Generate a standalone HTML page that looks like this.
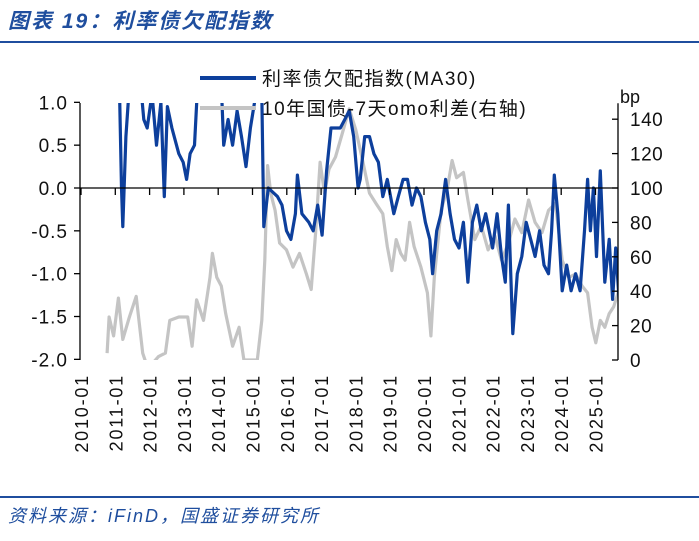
<!DOCTYPE html>
<html><head><meta charset="utf-8"><style>
body{margin:0;background:#fff;width:699px;height:536px;overflow:hidden;font-family:"Liberation Sans","Noto Sans CJK SC",sans-serif}
</style></head><body>
<svg id="chart" width="699" height="536" xmlns="http://www.w3.org/2000/svg">
<text x="8" y="28" font-size="21" font-weight="bold" font-style="italic" letter-spacing="2" fill="#1f4e9e">图表 19：利率债欠配指数</text>
<rect x="0" y="41" width="699" height="2" fill="#1f4e9e"/>
<rect x="0" y="496" width="699" height="2" fill="#1f4e9e"/>
<text x="8" y="522" font-size="18" font-style="italic" letter-spacing="2" fill="#1f4e9e">资料来源：iFinD，国盛证券研究所</text>
<g id="plot"></g>
<g id="axes"></g>
<g>
<line x1="200" y1="78" x2="256" y2="78" stroke="#0d3f9c" stroke-width="4"/>
<text x="262" y="85" font-size="19" letter-spacing="1.5" fill="#111">利率债欠配指数(MA30)</text>
<line x1="200" y1="108" x2="256" y2="108" stroke="#c4c4c4" stroke-width="4"/>
<text x="262" y="115" font-size="19" letter-spacing="1.5" fill="#111">10年国债-7天omo利差(右轴)</text>
</g>
<text x="620" y="103" font-size="18" fill="#111">bp</text>
</svg>
<script>
const years=[2010,2011,2012,2013,2014,2015,2016,2017,2018,2019,2020,2021,2022,2023,2024,2025];
const leftTicks=[1.0,0.5,0.0,-0.5,-1.0,-1.5,-2.0];
const rightTicks=[0,20,40,60,80,100,120,140];
const blueDates=[2011.12,2011.18,2011.22,2011.31,2011.41,2011.74,2011.83,2011.93,2012.07,2012.20,2012.33,2012.43,2012.52,2012.65,2012.85,2012.98,2013.08,2013.18,2013.31,2013.40,2014.09,2014.16,2014.29,2014.42,2014.55,2014.68,2014.81,2014.94,2015.14,2015.27,2015.33,2015.46,2015.73,2015.86,2015.99,2016.12,2016.25,2016.31,2016.44,2016.64,2016.77,2016.90,2017.03,2017.16,2017.29,2017.56,2017.69,2017.82,2017.95,2018.08,2018.14,2018.27,2018.41,2018.54,2018.67,2018.80,2018.93,2019.12,2019.25,2019.39,2019.52,2019.65,2019.78,2019.91,2020.04,2020.17,2020.25,2020.37,2020.50,2020.63,2020.76,2020.89,2021.02,2021.15,2021.28,2021.41,2021.54,2021.67,2021.80,2022.00,2022.13,2022.26,2022.37,2022.46,2022.59,2022.72,2022.85,2022.98,2023.11,2023.24,2023.37,2023.50,2023.63,2023.72,2023.80,2023.90,2024.03,2024.16,2024.29,2024.42,2024.55,2024.68,2024.77,2024.85,2024.94,2025.03,2025.14,2025.27,2025.40,2025.50,2025.59,2025.72];
const blueValues=[1.2,0.0,-0.45,0.6,1.2,1.2,0.8,0.7,1.1,0.5,1.0,-0.1,0.95,0.7,0.4,0.3,0.1,0.4,0.5,1.2,1.2,0.5,0.8,0.5,0.9,0.6,0.25,0.7,1.2,1.1,-0.45,0.0,-0.1,-0.2,-0.5,-0.6,-0.3,0.15,-0.3,-0.4,-0.5,-0.2,-0.55,0.2,0.7,0.7,0.8,0.9,0.6,0.0,0.1,0.6,0.6,0.4,0.3,-0.1,0.1,-0.3,-0.1,0.1,0.1,-0.2,0.0,-0.1,-0.4,-0.6,-1.0,-0.5,-0.3,0.1,-0.3,-0.6,-0.7,-0.4,-1.1,-0.4,-0.2,-0.5,-0.3,-0.7,-0.3,-0.8,-1.1,-0.2,-1.7,-1.0,-0.8,-0.4,-0.6,-0.8,-0.5,-0.9,-1.0,-0.5,0.15,-0.3,-1.2,-0.9,-1.2,-1.0,-1.2,-0.5,0.1,-0.5,0.0,-0.8,0.2,-1.1,-0.6,-1.3,-0.7,-1.5];
const grayDates=[2010.76,2010.82,2010.95,2011.09,2011.22,2011.41,2011.61,2011.80,2011.95,2012.26,2012.46,2012.59,2012.85,2013.11,2013.24,2013.37,2013.57,2013.76,2013.83,2013.96,2014.09,2014.22,2014.42,2014.61,2014.75,2015.14,2015.27,2015.36,2015.44,2015.53,2015.66,2015.79,2015.99,2016.18,2016.37,2016.57,2016.71,2016.84,2016.97,2017.10,2017.23,2017.42,2017.62,2017.82,2018.01,2018.21,2018.41,2018.60,2018.80,2018.93,2019.06,2019.19,2019.32,2019.45,2019.58,2019.71,2019.91,2020.10,2020.20,2020.30,2020.50,2020.69,2020.82,2020.95,2021.15,2021.28,2021.48,2021.67,2021.87,2022.07,2022.26,2022.46,2022.65,2022.85,2023.05,2023.24,2023.44,2023.63,2023.83,2024.03,2024.22,2024.42,2024.61,2024.77,2024.90,2025.01,2025.14,2025.27,2025.40,2025.53,2025.66,2025.74];
const grayValues=[4,25,14,36,12,25,37,4,-5,2,4,23,25,25,8,35,23,48,62,48,43,27,8,19,0,0,23,58,113,97,87,68,64,54,62,50,41,74,115,97,111,118,132,146,134,116,97,91,85,66,52,70,62,58,80,66,54,39,14,48,87,101,116,106,109,93,70,78,64,72,58,68,82,74,93,80,74,87,91,58,48,50,43,39,19,10,23,19,27,31,39,50];

const X0=81,PX=34.3,L=80,R=618,TOP=103,BOT=360;
const xs=t=>X0+(t-2010)*PX;
const yl=v=>188-v*85.67;
const yr=v=>360-v*1.72;
const NS="http://www.w3.org/2000/svg";
const svg=document.getElementById('chart');
function mk(tag,attrs,parent){const e=document.createElementNS(NS,tag);for(const k in attrs)e.setAttribute(k,attrs[k]);(parent||svg).appendChild(e);return e;}
const plot=document.getElementById('plot'),axes=document.getElementById('axes');
const defs=mk('defs',{});
const cp=mk('clipPath',{id:'clip'},defs);mk('rect',{x:L,y:TOP,width:R-L,height:BOT-TOP},cp);

const gp=mk('polyline',{points:grayDates.map((d,i)=>xs(d).toFixed(1)+','+yr(grayValues[i]).toFixed(1)).join(' '),fill:'none',stroke:'#c4c4c4','stroke-width':3.2,'stroke-linejoin':'round','clip-path':'url(#clip)'},plot);


const bp=mk('polyline',{points:blueDates.map((d,i)=>xs(d).toFixed(1)+','+yl(blueValues[i]).toFixed(1)).join(' '),fill:'none',stroke:'#0d3f9c','stroke-width':3.2,'stroke-linejoin':'round','clip-path':'url(#clip)'},plot);



const zl=mk('line',{x1:L,y1:yl(0),x2:R,y2:yl(0),stroke:'#000','stroke-width':1.3},axes);


const la=mk('line',{x1:L,y1:TOP,x2:L,y2:BOT,stroke:'#000','stroke-width':1.3},axes);


const ra=mk('line',{x1:R,y1:yr(140)-16,x2:R,y2:BOT,stroke:'#000','stroke-width':1.3},axes);


leftTicks.forEach(v=>{
  mk('line',{x1:L-6,y1:yl(v),x2:L,y2:yl(v),stroke:'#000','stroke-width':1.3},axes);
  const t=mk('text',{x:L-12,y:yl(v)+7,'font-size':19,'letter-spacing':1,'text-anchor':'end',fill:'#111'},axes);
  t.textContent=v.toFixed(1);
  
  
});
rightTicks.forEach(v=>{
  mk('line',{x1:R-6,y1:yr(v),x2:R,y2:yr(v),stroke:'#000','stroke-width':1.3},axes);
  const t=mk('text',{x:R+12,y:yr(v)+7,'font-size':19,'letter-spacing':0.5,fill:'#111'},axes);
  t.textContent=v;
  
  
});
years.forEach(y=>{
  const x=xs(y);
  mk('line',{x1:x,y1:yl(0),x2:x,y2:yl(0)+7,stroke:'#000','stroke-width':1.3},axes);
  const t=mk('text',{x:0,y:0,'font-size':18,'letter-spacing':1.8,'text-anchor':'end',fill:'#111',transform:`translate(${x+7},374) rotate(-90)`},axes);
  t.textContent=y+'-01';
  
  
});
</script>
</body></html>
